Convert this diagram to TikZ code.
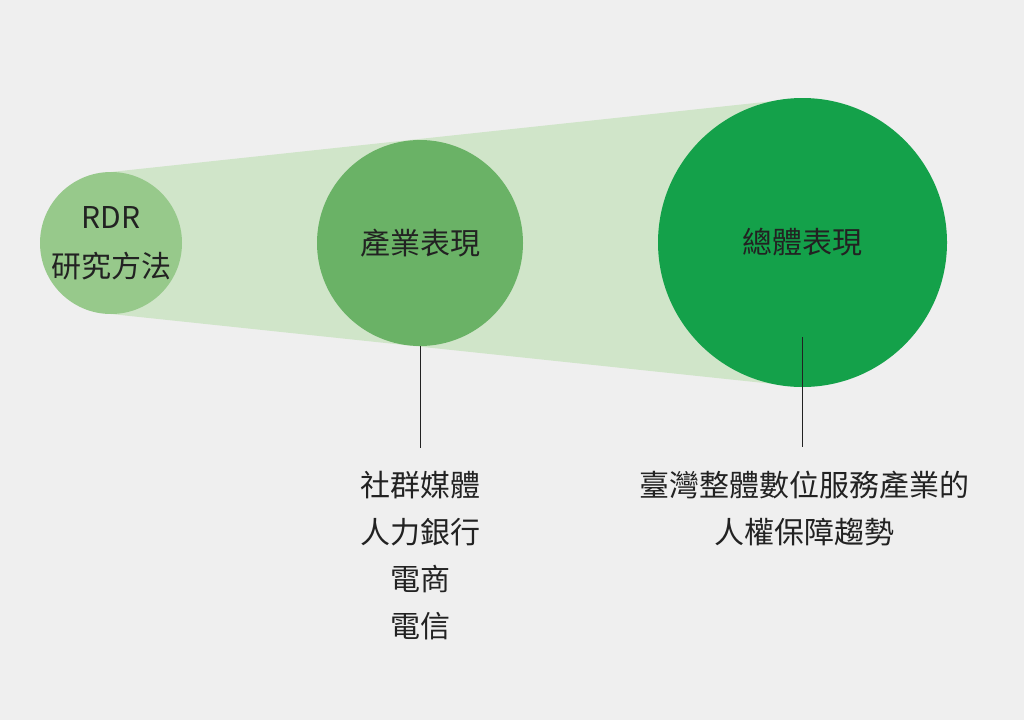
\documentclass[tikz,border=0pt]{standalone}
\usepackage{fontspec}
\setmainfont{Noto Sans CJK TC}
\usetikzlibrary{positioning}
\definecolor{bgc}{HTML}{EFEFEF}
\definecolor{bandc}{HTML}{D0E5C9}
\definecolor{rdrc}{HTML}{97C98B}
\definecolor{indc}{HTML}{6AB266}
\definecolor{allc}{HTML}{14A14A}
\definecolor{txtc}{HTML}{222222}
\tikzset{
  bubble/.style={circle, inner sep=0pt, text=txtc, align=center,
    font=\fontsize{30}{49}\selectfont},
  lbl/.style={text=txtc, align=center, font=\fontsize{30}{47}\selectfont},
  leader/.style={draw=txtc, line width=0.9pt}
}
\begin{document}
\begin{tikzpicture}[x=1pt, y=-1pt]
\fill[bgc] (0,0) rectangle (1024,720);
\fill[bandc] (111,172) -- (802,98) -- (802,387) -- (111,314) -- cycle;
\node[bubble, fill=rdrc, minimum size=142pt] (rdr) at (111,243) {RDR\\研究方法};
\node[bubble, fill=indc, minimum size=206pt] (ind) at (420,243) {產業表現};
\node[bubble, fill=allc, minimum size=289pt] (all) at (802.5,242.5) {總體表現};
\node[lbl] (indlbl) at (420,555.5) {社群媒體\\人力銀行\\電商\\電信};
\node[lbl] (alllbl) at (804,508.5) {臺灣整體數位服務產業的\\人權保障趨勢};
\coordinate (indend) at (420,448);
\coordinate (allstart) at (802,337);
\coordinate (allend) at (802,447);
\draw[leader] (ind.south) -- (indend);
\draw[leader] (allstart) -- (allend);
\end{tikzpicture}
\end{document}
